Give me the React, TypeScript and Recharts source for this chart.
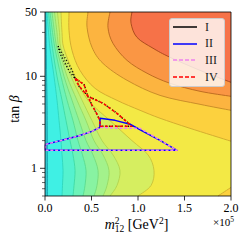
import React from 'react';
import { ComposedChart, Scatter, XAxis, YAxis, Legend } from 'recharts';

type Pt = { x: number; y: number };

const serif = "'Liberation Serif', 'DejaVu Serif', serif";

// rows of tan(beta) at which the left-hand contours were read
const tanBeta = [50, 30, 20, 10, 5.5, 3.3, 2, 1.4, 0.95, 0.65, 0.5];

// left-hand contours: m12^2 (in 1e5 GeV^2) at each tanBeta row, lowest level first
const left8 = [0.01, 0.012, 0.014, 0.017, 0.022, 0.024, 0.025, 0.026, 0.027, 0.027, 0.027];
const left7 = [0.022, 0.038, 0.054, 0.097, 0.129, 0.151, 0.172, 0.183, 0.194, 0.188, 0.183];
const left6 = [0.038, 0.059, 0.081, 0.129, 0.183, 0.226, 0.269, 0.301, 0.323, 0.312, 0.301];
const left5 = [0.054, 0.081, 0.108, 0.172, 0.237, 0.301, 0.355, 0.403, 0.441, 0.43, 0.409];
const left4 = [0.075, 0.102, 0.129, 0.204, 0.29, 0.366, 0.441, 0.516, 0.57, 0.559, 0.527];
const left3 = [0.102, 0.129, 0.151, 0.237, 0.344, 0.441, 0.527, 0.624, 0.688, 0.667, 0.624];
const left2 = [0.134, 0.156, 0.172, 0.28, 0.398, 0.505, 0.613, 0.731, 0.806, 0.774, 0.699];
const left1 = [0.172, 0.183, 0.204, 0.323, 0.462, 0.699, 0.935, 1.108, 1.172, 1.14, 1.0];

// upper-right contours, [m12^2, tanBeta] from the top edge to the right edge
const upper1 = [[0.258, 50], [0.258, 31.6], [0.29, 19.2], [0.376, 11.6], [0.538, 7.4], [0.774, 5.48], [1.022, 4.27], [1.237, 3.5], [1.559, 2.72], [2.0, 1.97]];
const upper2 = [[0.462, 50], [0.452, 34.1], [0.505, 20.7], [0.624, 13.8], [0.882, 9.05], [1.237, 6.2], [1.667, 4.96], [2.0, 4.27]];
const upper3 = [[0.699, 50], [0.677, 34.1], [0.731, 22.8], [0.882, 14.9], [1.097, 10.8], [1.344, 8.4], [1.667, 6.87], [2.0, 6.06]];
const upper4 = [[0.935, 50], [0.925, 37.7], [0.989, 26.5], [1.161, 20.2], [1.344, 16.1], [1.667, 11.6], [2.0, 8.6]];
const cornerContour = [[1.86, 0.5], [2.0, 0.62]];

// fill colours, lowest level first
const fillColors = ['#30c6d0', '#3ff0e4', '#55f2cf', '#6df3b9', '#88f3a2', '#a3f28c', '#bef176', '#d6ee60', '#f3e945', '#fcd13e', '#fcb440', '#fa9644', '#f67248'];
const leftLineColors = ['#18a6b2', '#2fd6bd', '#40d9a4', '#5adb8e', '#77da7a', '#96d964', '#b2d44e', '#c8c23a'];
const upperLineColors = ['#d0a82c', '#c48826', '#b8661e', '#a4441a'];

// allowed regions I-IV
const seriesNames = ['I', 'II', 'III', 'IV'];
const regionI = [[0.14, 21.2], [0.183, 17.8], [0.237, 14.55], [0.29, 11.6], [0.323, 9.5], [0.366, 7.8], [0.462, 6.06], [0.624, 5.09], [0.774, 3.96], [0.935, 2.86], [0.591, 2.86], [0.591, 3.32], [0.548, 4.06], [0.505, 4.84], [0.462, 6.06], [0.419, 8.18], [0.323, 9.5], [0.269, 11.05], [0.215, 13.8], [0.161, 17.8], [0.14, 21.2]];
const regionII = [[0.005, 1.82], [0.183, 2.015], [0.366, 2.26], [0.505, 2.52], [0.591, 2.79], [0.591, 3.5], [0.753, 3.32], [0.914, 3.01], [1.075, 2.46], [1.237, 2.015], [1.419, 1.57], [0.005, 1.57], [0.005, 1.82]];
const regionIII = [[0.005, 1.82], [0.183, 2.015], [0.366, 2.26], [0.505, 2.52], [0.591, 2.79], [0.806, 2.72], [1.022, 2.72], [1.419, 1.57], [0.005, 1.57], [0.005, 1.82]];
const regionIV = [[0.323, 9.5], [0.366, 7.8], [0.462, 6.06], [0.624, 5.09], [0.774, 3.96], [0.935, 2.86], [0.591, 2.86], [0.591, 3.32], [0.548, 4.06], [0.505, 4.84], [0.462, 6.06], [0.419, 8.18], [0.323, 9.5]];

const frame = [[0, 0.5], [2, 0.5], [2, 50], [0, 50], [0, 0.5]];

const xTicks = [0, 0.5, 1, 1.5, 2];
const yMajor = [1, 10, 50];
const yMinor = [0.5, 0.6, 0.7, 0.8, 0.9, 2, 3, 4, 5, 6, 7, 8, 9, 20, 30, 40];

const legendStyles = [
  { color: '#000000', dash: undefined },
  { color: '#0000ff', dash: undefined },
  { color: '#ee82ee', dash: '4 2' },
  { color: '#ff0000', dash: '4 2' },
];

const toXY = (pairs: number[][]): Pt[] => pairs.map(([x, y]) => ({ x, y }));
const topRight = { x: 2, y: 50 };
const bottomRight = { x: 2, y: 0.5 };

function smoothPath(p: Pt[]): string {
  if (!p.length) return '';
  let d = `M${p[0].x},${p[0].y}`;
  for (let i = 0; i < p.length - 1; i++) {
    const a = p[i - 1] || p[i];
    const b = p[i];
    const c = p[i + 1];
    const e = p[i + 2] || c;
    d += ` C${b.x + (c.x - a.x) / 6},${b.y + (c.y - a.y) / 6} ${c.x - (e.x - b.x) / 6},${c.y - (e.y - b.y) / 6} ${c.x},${c.y}`;
  }
  return d;
}

const polyPath = (p: Pt[]) => p.map((q, i) => `${i ? 'L' : 'M'}${q.x},${q.y}`).join(' ');

const noShape = () => <g />;

const fillLayer = (key: string, pts: Pt[], n: number, color: string) => (
  <Scatter
    key={key}
    data={pts}
    isAnimationActive={false}
    legendType="none"
    shape={noShape}
    line={(p: any) => {
      const q: Pt[] = p.points;
      const d = smoothPath(q.slice(0, n)) + q.slice(n).map((r) => ` L${r.x},${r.y}`).join('') + ' Z';
      return <path d={d} fill={color} stroke="none" />;
    }}
  />
);

const strokeLayer = (key: string, pts: Pt[], color: string, width: number, smooth: boolean, dash?: string) => (
  <Scatter
    key={key}
    data={pts}
    isAnimationActive={false}
    legendType="none"
    shape={noShape}
    line={(p: any) => (
      <path
        d={smooth ? smoothPath(p.points) : polyPath(p.points)}
        fill="none"
        stroke={color}
        strokeWidth={width}
        strokeDasharray={dash}
        strokeLinejoin="round"
      />
    )}
  />
);

const leftContours = [left8, left7, left6, left5, left4, left3, left2, left1];
const upperContours = [upper1, upper2, upper3, upper4];

const YTick = (props: any) => {
  const { x, y, payload } = props;
  const major = yMajor.includes(payload.value);
  return (
    <g>
      <line x1={x} x2={x - (major ? 5 : 3)} y1={y} y2={y} stroke="#000" strokeWidth={major ? 0.8 : 0.6} />
      {major && (
        <text x={x - 8} y={y} dy={4} textAnchor="end" fontFamily={serif} fontSize={12} fill="#000">
          {payload.value}
        </text>
      )}
    </g>
  );
};

const XTick = (props: any) => {
  const { x, y, payload } = props;
  return (
    <g>
      <line x1={x} x2={x} y1={y} y2={y + 4.5} stroke="#000" strokeWidth={0.8} />
      <text x={x} y={y + 16} textAnchor="middle" fontFamily={serif} fontSize={12} fill="#000">
        {payload.value.toFixed(1)}
      </text>
    </g>
  );
};

const XLabel = (props: any) => {
  const { x = 45, y = 196, width = 186 } = props.viewBox || {};
  return (
    <g fontFamily={serif} fill="#000">
      <text x={x + width / 2 - 1.5} y={y + 33} textAnchor="middle" fontSize={14}>
        <tspan fontStyle="italic">m</tspan>
        <tspan fontSize={9.5} dy={-5.5}>2</tspan>
        <tspan fontSize={9.5} dx={-4.75} dy={8.5}>12</tspan>
        <tspan dy={-3}> [GeV</tspan>
        <tspan fontSize={9.5} dy={-5.5}>2</tspan>
        <tspan dy={5.5}>]</tspan>
      </text>
      <text x={x + width + 3} y={y + 30} textAnchor="end" fontSize={11}>
        ×10<tspan fontSize={7.5} dy={-4.5}>5</tspan>
      </text>
    </g>
  );
};

const YLabel = (props: any) => {
  const { x = 8, y = 12, height = 184 } = props.viewBox || {};
  const bx = x + 11;
  const cy = y + height / 2 + 5;
  return (
    <text x={bx} y={cy} textAnchor="middle" fontFamily={serif} fontSize={14} fill="#000" transform={`rotate(-90, ${bx}, ${cy})`}>
      tan <tspan fontStyle="italic">β</tspan>
    </text>
  );
};

const LegendBox = () => (
  <div
    style={{
      boxSizing: 'border-box',
      width: 56,
      height: 69,
      background: 'rgba(255,255,255,0.8)',
      border: '1px solid #cccccc',
      borderRadius: 3,
      fontFamily: serif,
      fontSize: 12,
      color: '#222',
    }}
  >
    {seriesNames.map((name, i) => (
      <div key={name} style={{ display: 'flex', alignItems: 'center', height: 16.6 }}>
        <svg width={24} height={4} style={{ marginLeft: 3, marginRight: 8 }}>
          <line x1={0} x2={24} y1={2} y2={2} stroke={legendStyles[i].color} strokeWidth={1.5} strokeDasharray={legendStyles[i].dash} />
        </svg>
        <span>{name}</span>
      </div>
    ))}
  </div>
);

export default function App() {
  const layers: React.ReactNode[] = [];
  layers.push(fillLayer('base', toXY(frame.slice(0, 4)), 1, fillColors[0]));
  leftContours.forEach((c, k) => {
    const pts = tanBeta.map((t, i) => ({ x: c[i], y: t }));
    layers.push(fillLayer(`lf${k}`, [...pts, bottomRight, topRight], pts.length, fillColors[k + 1]));
  });
  upperContours.forEach((c, k) => {
    const pts = toXY(c);
    layers.push(fillLayer(`uf${k}`, [...pts, topRight], pts.length, fillColors[k + 9]));
    if (k === 0) {
      const cp = toXY(cornerContour);
      layers.push(fillLayer('cf', [...cp, bottomRight], cp.length, fillColors[9]));
    }
  });
  leftContours.forEach((c, k) => {
    const pts = tanBeta.map((t, i) => ({ x: c[i], y: t }));
    layers.push(strokeLayer(`ll${k}`, pts, leftLineColors[k], 0.9, true));
  });
  upperContours.forEach((c, k) => {
    layers.push(strokeLayer(`ul${k}`, toXY(c), upperLineColors[k], 0.9, true));
  });
  layers.push(strokeLayer('cl', toXY(cornerContour), upperLineColors[0], 0.9, true));

  layers.push(strokeLayer('I', toXY(regionI), '#000000', 1.5, false, '1 2.2'));
  layers.push(strokeLayer('II', toXY(regionII), '#0000ff', 1.5, false));
  layers.push(strokeLayer('III', toXY(regionIII), '#ee82ee', 1.5, false, '3 1.8'));
  layers.push(strokeLayer('IV', toXY(regionIV), '#ff0000', 1.5, false, '3 2'));
  layers.push(strokeLayer('frame', toXY(frame), '#000000', 0.8, false));

  return (
    <div style={{ margin: '-8px 0 0 -8px' }}>
      <ComposedChart width={247} height={243} margin={{ top: 12, right: 16, bottom: 0, left: 8 }}>
        <XAxis
          dataKey="x"
          type="number"
          domain={[0, 2]}
          ticks={xTicks}
          interval={0}
          height={47}
          axisLine={false}
          tickLine={false}
          tickSize={0}
          tickMargin={0}
          tick={<XTick />}
          label={XLabel}
        />
        <YAxis
          dataKey="y"
          type="number"
          scale="log"
          domain={[0.5, 50]}
          ticks={[...yMinor, ...yMajor].sort((a, b) => a - b)}
          interval={0}
          width={37}
          axisLine={false}
          tickLine={false}
          tickSize={0}
          tickMargin={0}
          tick={<YTick />}
          label={YLabel}
        />
        {layers}
        <Legend
          layout="vertical"
          align="center"
          verticalAlign="middle"
          wrapperStyle={{ left: 169, top: 18, width: 56, height: 69 }}
          content={() => <LegendBox />}
        />
      </ComposedChart>
    </div>
  );
}
